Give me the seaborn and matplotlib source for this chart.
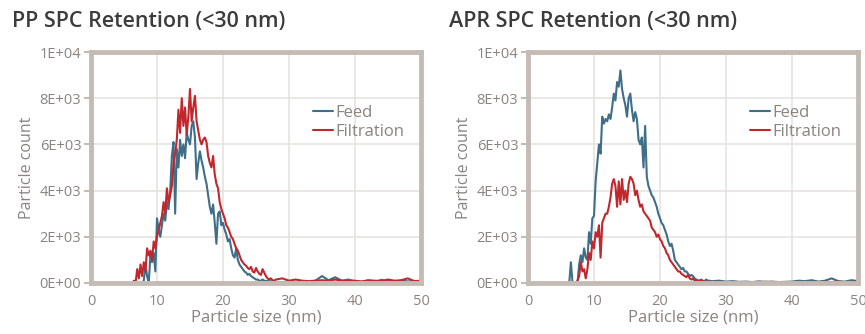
import numpy as np
import pandas as pd
import matplotlib.pyplot as plt
import seaborn as sns

sns.set_theme(style="white")
plt.rcParams['font.family'] = ['Open Sans', 'DejaVu Sans']

# particle size grid: 0.25 nm steps up to 27.75 nm, then 1 nm steps to 50 nm
size_fine = np.arange(6.0, 28.0, 0.25)
size_tail = np.arange(28.0, 51.0, 1.0)
sizes = np.concatenate([size_fine, size_tail])

# PP panel
pp_feed = [
    0, 0, 0, 0,  0, 0, 0, 0,
    100, 800, 300, 0,  1200, 900, 1300, 500,
    2800, 2300, 2000, 2500,  3000, 2700, 3500, 3200,
    4000, 5500, 6100, 3000,  5800, 5000, 6200, 5500,
    6000, 5400, 6500, 6200,  6000, 6800, 7000, 6300,
    4500, 5200, 5700, 5300,  5000, 4600, 4300, 3800,
    3300, 3000, 3400, 2600,  1700, 3000, 3100, 2500,
    2600, 2300, 2100, 1800,  1900, 1500, 1200, 1100,
    1500, 1000, 800, 700,  600, 500, 450, 350,
    400, 300, 250, 200,  150, 150, 100, 100,
    150, 100, 80, 100,  60, 80, 50, 60,
    50, 40, 60, 40, 50, 40, 100, 300, 120, 250, 100, 150,
    80, 60, 100, 50, 140, 80, 60, 100, 70, 80, 50,
]
pp_filt = [
    0, 0, 100, 0,  600, 200, 800, 300,
    900, 500, 1500, 1200,  1400, 1000, 1800, 1500,
    2000, 2300, 2600, 2900,  3500, 3000, 4100, 3500,
    3800, 4200, 5200, 5600,  6200, 7500, 6500, 8000,
    6800, 7600, 6400, 7200,  8400, 7000, 7600, 8100,
    7000, 6600, 6200, 6000,  6200, 6300, 6100, 5500,
    5200, 5000, 5500, 4700,  4300, 4100, 3500, 3200,
    3000, 2800, 2500, 2400,  2200, 2000, 1900, 1700,
    1500, 1400, 1200, 1000,  900, 800, 750, 650,
    600, 700, 500, 450,  650, 500, 400, 350,
    600, 450, 300, 200,  150, 200, 120, 100,
    150, 200, 100, 150, 100, 80, 100, 120, 100, 150, 100, 80,
    100, 60, 120, 100, 80, 150, 100, 120, 200, 80, 100,
]

# APR panel
apr_feed = [
    0, 0, 900, 0,  0, 0, 0, 800,
    1200, 900, 1500, 1100,  1000, 2200, 1700, 2800,
    2900, 4400, 5200, 6000,  5600, 7200, 6900, 7100,
    7000, 7300, 7100, 7600,  8200, 7900, 8700, 8500,
    9200, 8400, 8000, 7700,  7200, 8000, 8200, 7500,
    7000, 7400, 7100, 6200,  6000, 6300, 5000, 6800,
    4600, 4200, 4000, 3800,  3700, 3500, 3300, 3000,
    2800, 2600, 2500, 2300,  2100, 1800, 1600, 1700,
    1400, 1000, 900, 800,  700, 600, 650, 500,
    500, 400, 300, 350,  300, 200, 150, 120,
    100, 150, 100, 80,  150, 100, 100, 80,
    80, 100, 60, 80, 50, 60, 40, 70, 50, 60, 40, 50,
    60, 100, 80, 120, 60, 100, 200, 80, 60, 120, 80,
]
apr_filt = [
    0, 0, 0, 0,  0, 0, 100, 300,
    900, 500, 600, 200,  600, 1300, 1000, 1800,
    1500, 2200, 2000, 2500,  1100, 2600, 2800, 3000,
    3000, 3300, 3700, 4300,  4500, 4200, 3300, 4400,
    3400, 4500, 3600, 4000,  3500, 4300, 4600, 4500,
    4300, 3800, 4000, 3600,  3300, 3400, 3100, 3000,
    2900, 2800, 2700, 2400,  2300, 2200, 2000, 2100,
    1900, 1800, 1600, 1500,  1300, 1200, 1000, 900,
    800, 700, 600, 500,  500, 400, 350, 300,
    250, 350, 200, 150,  200, 100, 100, 80,
    100, 60, 80, 50,  60, 50, 50, 40,
    40, 50, 30, 40, 30, 20, 40, 30, 50, 30, 40, 30,
    40, 20, 30, 40, 30, 50, 40, 60, 30, 40, 80,
]

titles = ["PP SPC Retention (<30 nm)", "APR SPC Retention (<30 nm)"]
panels = [(pp_feed, pp_filt), (apr_feed, apr_filt)]
xticks = [0, 10, 20, 30, 40, 50]
yticks = [0, 2000, 4000, 6000, 8000, 10000]
ytick_labels = ["0E+00", "2E+03", "4E+03", "6E+03", "8E+03", "1E+04"]

frame_col = "#c4bcb4"
grid_col = "#e8e3df"
text_col = "#8a8480"
palette = {"Feed": "#3f6e88", "Filtration": "#c1272d"}

fig = plt.figure(figsize=(8.65, 3.34), dpi=100)
ax_left = [0.1052, 0.6104]

for i, (feed, filt) in enumerate(panels):
    ax = fig.add_axes([ax_left[i], 0.1527, 0.3815, 0.6916])
    df = pd.DataFrame({"size": sizes, "Feed": feed, "Filtration": filt})
    df = df.melt(id_vars="size", var_name="series", value_name="count")
    sns.lineplot(data=df, x="size", y="count", hue="series", palette=palette,
                 linewidth=1.5, ax=ax, zorder=3)

    ax.set_xlim(0, 50)
    ax.set_ylim(0, 10000)
    ax.set_xticks(xticks)
    ax.set_yticks(yticks)
    ax.set_yticklabels(ytick_labels)
    ax.grid(True, color=grid_col, linewidth=1.2)
    for s in ax.spines.values():
        s.set_visible(True)
        s.set_color(frame_col)
        s.set_linewidth(3.5)
        s.set_zorder(4)
    ax.tick_params(axis='y', length=5, width=1.5, color=frame_col,
                   labelsize=10.5, labelcolor=text_col, pad=2, left=True)
    ax.tick_params(axis='x', length=0, labelsize=10.5, labelcolor=text_col, pad=8)
    ax.set_xlabel("Particle size (nm)", fontsize=12, color=text_col, labelpad=0)
    ax.set_ylabel("Particle count", fontsize=11.5, color=text_col, labelpad=3)

    leg = ax.legend(loc="upper right", bbox_to_anchor=(0.995, 0.835), frameon=False,
                    fontsize=12, handlelength=1.2, handletextpad=0.15,
                    labelspacing=0.15)
    for t in leg.get_texts():
        t.set_color(text_col)

    fig.text(ax_left[i] - 0.0915, 0.935, titles[i], fontsize=15.5,
             color="#3c3c3c", ha="left", va="center", weight="semibold")

fig.savefig("out.png", dpi=100)
